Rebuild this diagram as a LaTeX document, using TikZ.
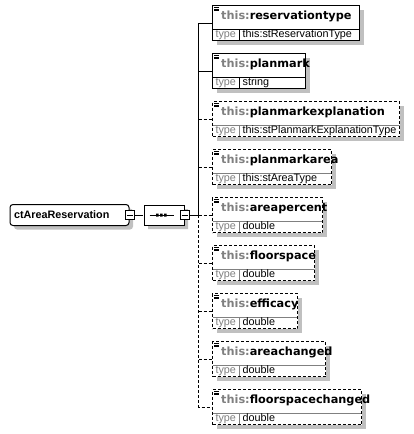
\documentclass[tikz,border=0pt]{standalone}
\usepackage{fontspec}
\usepackage{tikz}
\usetikzlibrary{positioning,shapes.misc,shadows}
\setmainfont{DejaVu Sans}
\newfontfamily\elemfont{Liberation Sans}
\definecolor{shadowgray}{RGB}{192,192,192}
\definecolor{labelgray}{RGB}{128,128,128}
\newcommand{\thisprefix}{\textcolor{labelgray}{this:}}

\tikzset{
  boxshadow/.style={drop shadow={shadow xshift=4pt,shadow yshift=-4pt,fill=shadowgray,opacity=1}},
  elembox/.style={rectangle, rounded corners=3pt,
    draw, line width=1pt, fill=white, boxshadow, minimum width=119pt, minimum height=21pt,
    text width=111pt, inner xsep=4pt, inner ysep=0pt, align=left,
    font=\elemfont\bfseries\fontsize{10.8pt}{12pt}\selectfont},
  seqbox/.style={chamfered rectangle, chamfered rectangle xsep=6pt, chamfered rectangle ysep=6pt,
    draw, line width=1pt, fill=white, boxshadow, minimum width=40pt, minimum height=20pt, inner sep=0pt},
  minusbox/.style={rectangle, draw, line width=1pt, fill=white, minimum size=9pt, inner sep=0pt,
    path picture={\draw[line width=1pt] ([xshift=1.5pt]path picture bounding box.west) -- ([xshift=-1.5pt]path picture bounding box.east);}},
  fieldbox/.style={anchor=north west, rectangle, draw, line width=1pt, fill=white, outer sep=0pt,
    inner sep=0pt, minimum height=35pt, boxshadow,
    path picture={
      \draw[solid, line width=1pt, #1] ([yshift=-23.5pt]path picture bounding box.north west) -- ([yshift=-23.5pt]path picture bounding box.north east)
        ([shift={(26.5pt,-23.5pt)}]path picture bounding box.north west) -- ([xshift=26.5pt]path picture bounding box.south west);
      \draw[solid, line width=0.7pt] ([shift={(1.5pt,-1.7pt)}]path picture bounding box.north west) -- +(4.5pt,0pt)
        ([shift={(1.5pt,-3.4pt)}]path picture bounding box.north west) -- +(4.5pt,0pt)
        ([shift={(1.5pt,-5.1pt)}]path picture bounding box.north west) -- +(4.5pt,0pt);
    }},
  reqbox/.style={fieldbox=black},
  optbox/.style={fieldbox=labelgray, dash pattern=on 3pt off 2pt},
  nametext/.style={anchor=base west, inner sep=0pt, font=\bfseries\fontsize{11.3pt}{13pt}\selectfont},
  typetext/.style={anchor=base, inner sep=0pt, text=labelgray, font=\elemfont\fontsize{10.8pt}{12pt}\selectfont},
  valuetext/.style={anchor=base west, inner sep=0pt, font=\elemfont\fontsize{10.8pt}{12pt}\selectfont},
  link/.style={line width=1pt},
  optlink/.style={line width=1pt, dash pattern=on 3pt off 2pt}
}

\begin{document}
\begin{tikzpicture}[x=1pt,y=-1pt]
  \useasboundingbox (0,0) rectangle (414,434);

  % Draw the complex type and its sequence
  \node[elembox] (ctAreaReservation) at (69.5,215) {ctAreaReservation};
  \node[minusbox] (ctAreaReservation-minus) at (ctAreaReservation.east) {};
  \node[seqbox] (sequence) at (164,215) {};
  \node[minusbox] (sequence-minus) at (sequence.east) {};
  \draw[link] (ctAreaReservation-minus) -- (sequence);

  % Draw the sequence symbol
  \draw[line width=1pt] (149.5,215) -- (173.5,215);
  \fill (156,213.5) rectangle (158.7,216.5) (160,213.5) rectangle (162.7,216.5) (164,213.5) rectangle (166.7,216.5);

  % Draw the child elements
  \node[reqbox, minimum width=147pt] (reservationtype) at (212.5,5.5) {};
  \node[nametext] (reservationtype-name) at (221,19) {\thisprefix reservationtype};
  \node[typetext] (reservationtype-type) at (225.75,37.5) {type};
  \node[valuetext] (reservationtype-value) at (242.5,37.5) {this:stReservationType};

  \node[reqbox, minimum width=93pt] (planmark) at (212.5,53.5) {};
  \node[nametext] (planmark-name) at (221,67) {\thisprefix planmark};
  \node[typetext] (planmark-type) at (225.75,85.5) {type};
  \node[valuetext] (planmark-value) at (242.5,85.5) {string};

  \node[optbox, minimum width=187pt] (planmarkexplanation) at (212.5,101.5) {};
  \node[nametext] (planmarkexplanation-name) at (221,115) {\thisprefix planmarkexplanation};
  \node[typetext] (planmarkexplanation-type) at (225.75,133.5) {type};
  \node[valuetext] (planmarkexplanation-value) at (242.5,133.5) {this:stPlanmarkExplanationType};

  \node[optbox, minimum width=119pt] (planmarkarea) at (212.5,149.5) {};
  \node[nametext] (planmarkarea-name) at (221,163) {\thisprefix planmarkarea};
  \node[typetext] (planmarkarea-type) at (225.75,181.5) {type};
  \node[valuetext] (planmarkarea-value) at (242.5,181.5) {this:stAreaType};

  \node[optbox, minimum width=110pt] (areapercent) at (212.5,197.5) {};
  \node[nametext] (areapercent-name) at (221,211) {\thisprefix areapercent};
  \node[typetext] (areapercent-type) at (225.75,229.5) {type};
  \node[valuetext] (areapercent-value) at (242.5,229.5) {double};

  \node[optbox, minimum width=102pt] (floorspace) at (212.5,245.5) {};
  \node[nametext] (floorspace-name) at (221,259) {\thisprefix floorspace};
  \node[typetext] (floorspace-type) at (225.75,277.5) {type};
  \node[valuetext] (floorspace-value) at (242.5,277.5) {double};

  \node[optbox, minimum width=85pt] (efficacy) at (212.5,293.5) {};
  \node[nametext] (efficacy-name) at (221,307) {\thisprefix efficacy};
  \node[typetext] (efficacy-type) at (225.75,325.5) {type};
  \node[valuetext] (efficacy-value) at (242.5,325.5) {double};

  \node[optbox, minimum width=113pt] (areachanged) at (212.5,341.5) {};
  \node[nametext] (areachanged-name) at (221,355) {\thisprefix areachanged};
  \node[typetext] (areachanged-type) at (225.75,373.5) {type};
  \node[valuetext] (areachanged-value) at (242.5,373.5) {double};

  \node[optbox, minimum width=149pt] (floorspacechanged) at (212.5,389.5) {};
  \node[nametext] (floorspacechanged-name) at (221,403) {\thisprefix floorspacechanged};
  \node[typetext] (floorspacechanged-type) at (225.75,421.5) {type};
  \node[valuetext] (floorspacechanged-value) at (242.5,421.5) {double};

  % Draw the connectors
  \coordinate (fork) at (198.5,215);
  \draw[link] (sequence-minus) -- (fork);
  \draw[link] (fork) |- (reservationtype);
  \draw[link] (fork |- planmark.west) -- (planmark);
  \draw[optlink] (fork |- planmarkexplanation.west) -- (planmarkexplanation);
  \draw[optlink] (fork |- planmarkarea.west) -- (planmarkarea);
  \draw[optlink] (fork) -- (areapercent);
  \draw[optlink] (fork |- floorspace.west) -- (floorspace);
  \draw[optlink] (fork |- efficacy.west) -- (efficacy);
  \draw[optlink] (fork |- areachanged.west) -- (areachanged);
  \draw[optlink] (fork) |- (floorspacechanged);
\end{tikzpicture}
\end{document}
